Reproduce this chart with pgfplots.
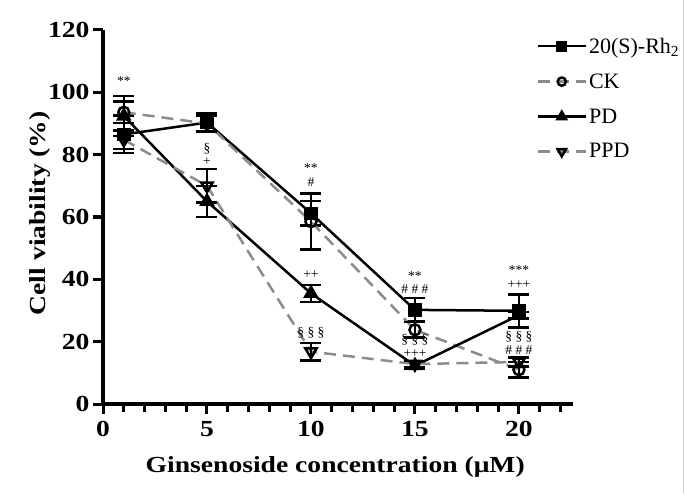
\documentclass[border=0pt]{standalone}
\usepackage{fontspec}
\setmainfont{Liberation Serif}
\newfontfamily\widefont{Liberation Serif}[FakeStretch=1.2]
\usepackage{pgfplots}
\usepackage{pgfplotstable}
\pgfplotsset{compat=1.18}
\definecolor{lgray}{RGB}{140,140,140}

\pgfplotstableread{
x y e
1 86.5 6.0
5 90.3 3.0
10 61.2 4.0
15 30.2 3.8
20 29.9 5.3
}\rh
\pgfplotstableread{
x y e
1 93.6 3.4
5 90.0 2.5
10 58.5 9.0
15 23.8 2.5
20 11.0 2.5
}\ck
\pgfplotstableread{
x y e
1 92.4 6.4
5 65.0 5.0
10 35.5 2.7
15 12.3 1.0
20 28.5 1.0
}\pd
\pgfplotstableread{
x y e
1 84.8 3.0
5 70.0 5.4
10 16.8 2.8
15 12.8 1.0
20 13.5 1.5
}\ppd

\begin{document}
\begin{tikzpicture}
\path[use as bounding box] (0pt,0pt) rectangle (685pt,493pt);
\draw[gray!40, line width=1pt] (683pt,0pt) -- (683pt,493pt);
\begin{axis}[
  at={(103pt,89pt)}, anchor=south west,
  scale only axis, width=470pt, height=374pt,
  xmin=0, xmax=22.6, ymin=0, ymax=120,
  axis lines=left,
  axis line style={-, line width=3.5pt},
  xtick={0,5,10,15,20},
  ytick={0,20,40,60,80,100,120},
  tick align=outside,
  major tick length=10pt,
  every tick/.style={black, line width=3pt},
  /pgf/number format/assume math mode=true,
  ticklabel style={font=\fontsize{23}{27}\selectfont\widefont\bfseries},
  xticklabel style={yshift=-4pt},
  xlabel={Ginsenoside concentration (μM)},
  ylabel={Cell viability (\%)},
  label style={font=\fontsize{23}{27}\selectfont\widefont\bfseries},
  xlabel style={at={(axis description cs:0.494,-0.168)}, anchor=center},
  ylabel style={at={(axis description cs:-0.134,0.51)}, anchor=center},
  clip=false,
  legend style={at={(rel axis cs:0.922,0.985)}, anchor=north west, draw=none, fill=none,
    font=\fontsize{22}{25}\selectfont, row sep=15pt, inner sep=0pt},
  legend cell align=left,
  lg/.style={legend image code/.code={\draw[mark repeat=2,mark phase=2,##1, /tikz/every mark/.append style={scale=0.75}] plot coordinates {(0pt,0pt) (24pt,0pt) (48pt,0pt)};}},
  every axis plot/.append style={line width=2.5pt},
  err/.style={error bars/.cd, y dir=both, y explicit,
    error bar style={line width=2.5pt, black, solid},
    error mark options={rotate=90, mark size=10.5pt, line width=2.5pt, black, solid}},
]
\pgfplotsinvokeforeach{1,2,3,4,6,7,8,9,11,12,13,14,16,17,18,19,21,22}{
  \draw[black, line width=3pt] (axis cs:#1,0) -- ([yshift=-7.5pt]axis cs:#1,0);
}
\addplot[black, solid, mark=square*, mark size=5.5pt, mark options={black, solid}, lg, err]
  table[x=x, y=y, y error=e] {\rh};
\addlegendentry{20(S)-Rh\textsubscript{2}}
\addplot[lgray, dash pattern=on 12pt off 7pt, mark=o, mark size=5.5pt, mark options={black, solid, fill=white, line width=2.5pt}, lg, err]
  table[x=x, y=y, y error=e] {\ck};
\addlegendentry{CK}
\addplot[black, solid, mark=triangle*, mark size=6.5pt, mark options={black, solid}, lg, err]
  table[x=x, y=y, y error=e] {\pd};
\addlegendentry{PD}
\addplot[lgray, dash pattern=on 12pt off 7pt, mark=triangle, mark size=6.5pt, mark options={black, solid, rotate=180, fill=white, line width=2.5pt}, lg, err]
  table[x=x, y=y, y error=e] {\ppd};
\addlegendentry{PPD}

\begin{scope}[every node/.style={font=\fontsize{13.5}{14}\selectfont, inner sep=0pt}]
\node at (axis cs:1,103.5) {**};
\node at (axis cs:5,81.8) {§};
\node at (axis cs:5,77.6) {+};
\node at (axis cs:10,75.6) {**};
\node at (axis cs:10,71.2) {\#};
\node at (axis cs:10,41.6) {++};
\node at (axis cs:10,23) {§ § §};
\node at (axis cs:15,41.2) {**};
\node at (axis cs:15,36.8) {\# \# \#};
\node at (axis cs:15,20.6) {§ § §};
\node at (axis cs:15,16.3) {+++};
\node at (axis cs:20,42.9) {***};
\node at (axis cs:20,38.2) {+++};
\node at (axis cs:20,21.6) {§ § §};
\node at (axis cs:20,17.4) {\# \# \#};
\end{scope}
\end{axis}
\end{tikzpicture}
\end{document}
